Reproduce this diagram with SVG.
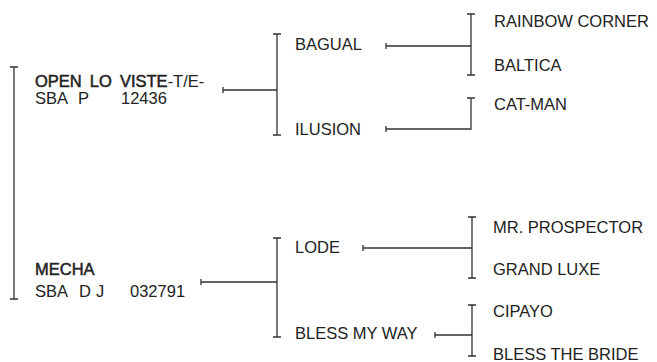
<svg xmlns="http://www.w3.org/2000/svg" width="657" height="362" viewBox="0 0 657 362">
<style>
text{font-family:"Liberation Sans",Arial,sans-serif;font-size:16.5px;fill:#222}
.b{stroke:#222;stroke-width:0.5}
.c{stroke:#333;stroke-width:1.3;fill:none}
</style>
<rect width="657" height="362" fill="#fff"/>
<g id="connectors" class="c">
  <path d="M14 67V299M10 67H18M10 299H18"/>
  <path d="M223 87V93M223 90H277M277 34V135M273 34H281M273 135H281"/>
  <path d="M386 43V49M386 46H471M471 14V75M467 14H475M467 75H475"/>
  <path d="M386 126V132M386 129H471V98M467 98H475"/>
  <path d="M201 279V285M201 282H277M277 238V337M273 238H281M273 337H281"/>
  <path d="M363 245V251M363 248H472M472 217V278M468 217H476M468 278H476"/>
  <path d="M435 332V338M435 335H472M472 305V356M468 305H476M468 356H476"/>
</g>
<g id="open-lo-viste">
  <text x="35" y="87" word-spacing="3.5"><tspan class="b">OPEN LO VISTE</tspan>-T/E-</text>
  <text y="104"><tspan x="35">SBA</tspan><tspan x="78">P</tspan><tspan x="121">12436</tspan></text>
</g>
<g id="mecha">
  <text x="35" y="275" class="b">MECHA</text>
  <text y="297"><tspan x="35">SBA</tspan><tspan x="79">D</tspan><tspan x="96">J</tspan><tspan x="130">032791</tspan></text>
</g>
<g id="bagual"><text x="295" y="50">BAGUAL</text></g>
<g id="ilusion"><text x="295" y="135">ILUSION</text></g>
<g id="lode"><text x="295" y="253">LODE</text></g>
<g id="bless-my-way"><text x="295" y="339">BLESS MY WAY</text></g>
<g id="rainbow-corner"><text x="494" y="27">RAINBOW CORNER</text></g>
<g id="baltica"><text x="494" y="71">BALTICA</text></g>
<g id="cat-man"><text x="494" y="110">CAT-MAN</text></g>
<g id="mr-prospector"><text x="493" y="233">MR. PROSPECTOR</text></g>
<g id="grand-luxe"><text x="493" y="275">GRAND LUXE</text></g>
<g id="cipayo"><text x="493" y="317">CIPAYO</text></g>
<g id="bless-the-bride"><text x="493" y="359.5">BLESS THE BRIDE</text></g>
</svg>
